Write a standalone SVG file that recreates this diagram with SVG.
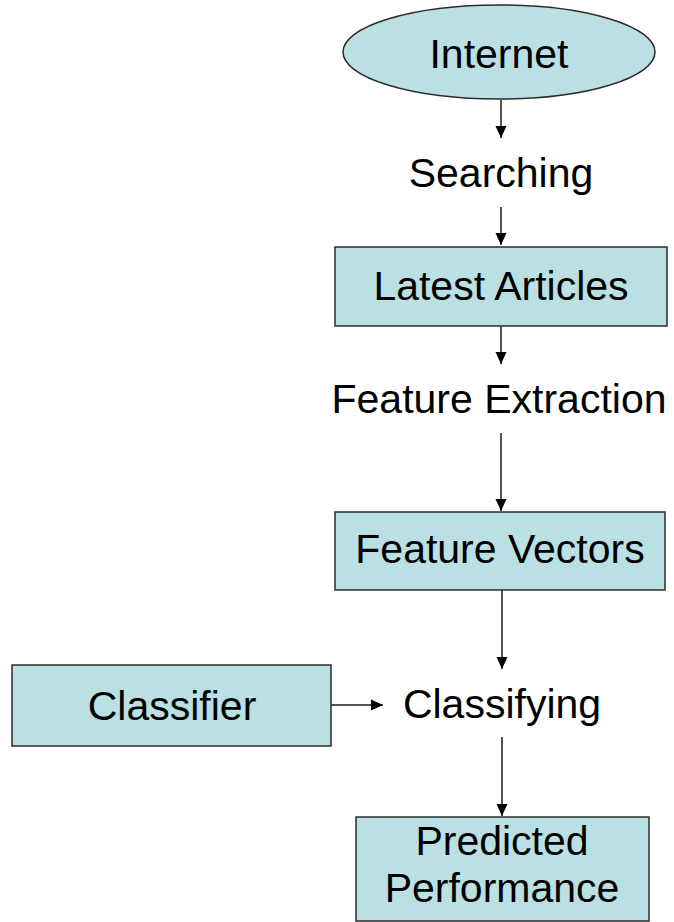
<svg xmlns="http://www.w3.org/2000/svg" width="674" height="922" viewBox="0 0 674 922">
<style>
.node{fill:#bbe0e3;stroke:#2b2b2b;stroke-width:1.5}
.t{font-family:"Liberation Sans",Arial,sans-serif;font-size:41px;fill:#000;text-anchor:middle}
.c{stroke:#1a1a1a;stroke-width:1.5;fill:none;marker-end:url(#ah)}
</style>
<defs>
<marker id="ah" markerUnits="userSpaceOnUse" markerWidth="12" markerHeight="12" viewBox="0 0 12 12" refX="12" refY="6" orient="auto">
<path d="M0,0.5 L12,6 L0,11.5 Z" fill="#000"/>
</marker>
</defs>
<rect width="674" height="922" fill="#fff"/>
<g id="connectors">
<line class="c" x1="501" y1="100" x2="501" y2="138"/>
<line class="c" x1="501" y1="207" x2="501" y2="245"/>
<line class="c" x1="501" y1="326" x2="501" y2="364"/>
<line class="c" x1="501" y1="433" x2="501" y2="511"/>
<line class="c" x1="502" y1="590" x2="502" y2="669"/>
<line class="c" x1="331" y1="705" x2="383" y2="705"/>
<line class="c" x1="502" y1="737" x2="502" y2="816"/>
</g>
<g id="internet">
<ellipse class="node" cx="499" cy="52" rx="156" ry="47"/>
<text class="t" x="499" y="68">Internet</text>
</g>
<g id="searching">
<text class="t" x="501" y="187">Searching</text>
</g>
<g id="latest-articles">
<rect class="node" x="335" y="247" width="332" height="79"/>
<text class="t" x="501" y="300">Latest Articles</text>
</g>
<g id="feature-extraction">
<text class="t" x="499" y="413">Feature Extraction</text>
</g>
<g id="feature-vectors">
<rect class="node" x="335" y="512" width="330" height="78"/>
<text class="t" x="500" y="563">Feature Vectors</text>
</g>
<g id="classifier">
<rect class="node" x="12" y="665" width="319" height="81"/>
<text class="t" x="172" y="720">Classifier</text>
</g>
<g id="classifying">
<text class="t" x="502" y="718">Classifying</text>
</g>
<g id="predicted-performance">
<rect class="node" x="356" y="817" width="293" height="104"/>
<text class="t" x="502" y="855">Predicted</text>
<text class="t" x="502" y="902">Performance</text>
</g>
</svg>
